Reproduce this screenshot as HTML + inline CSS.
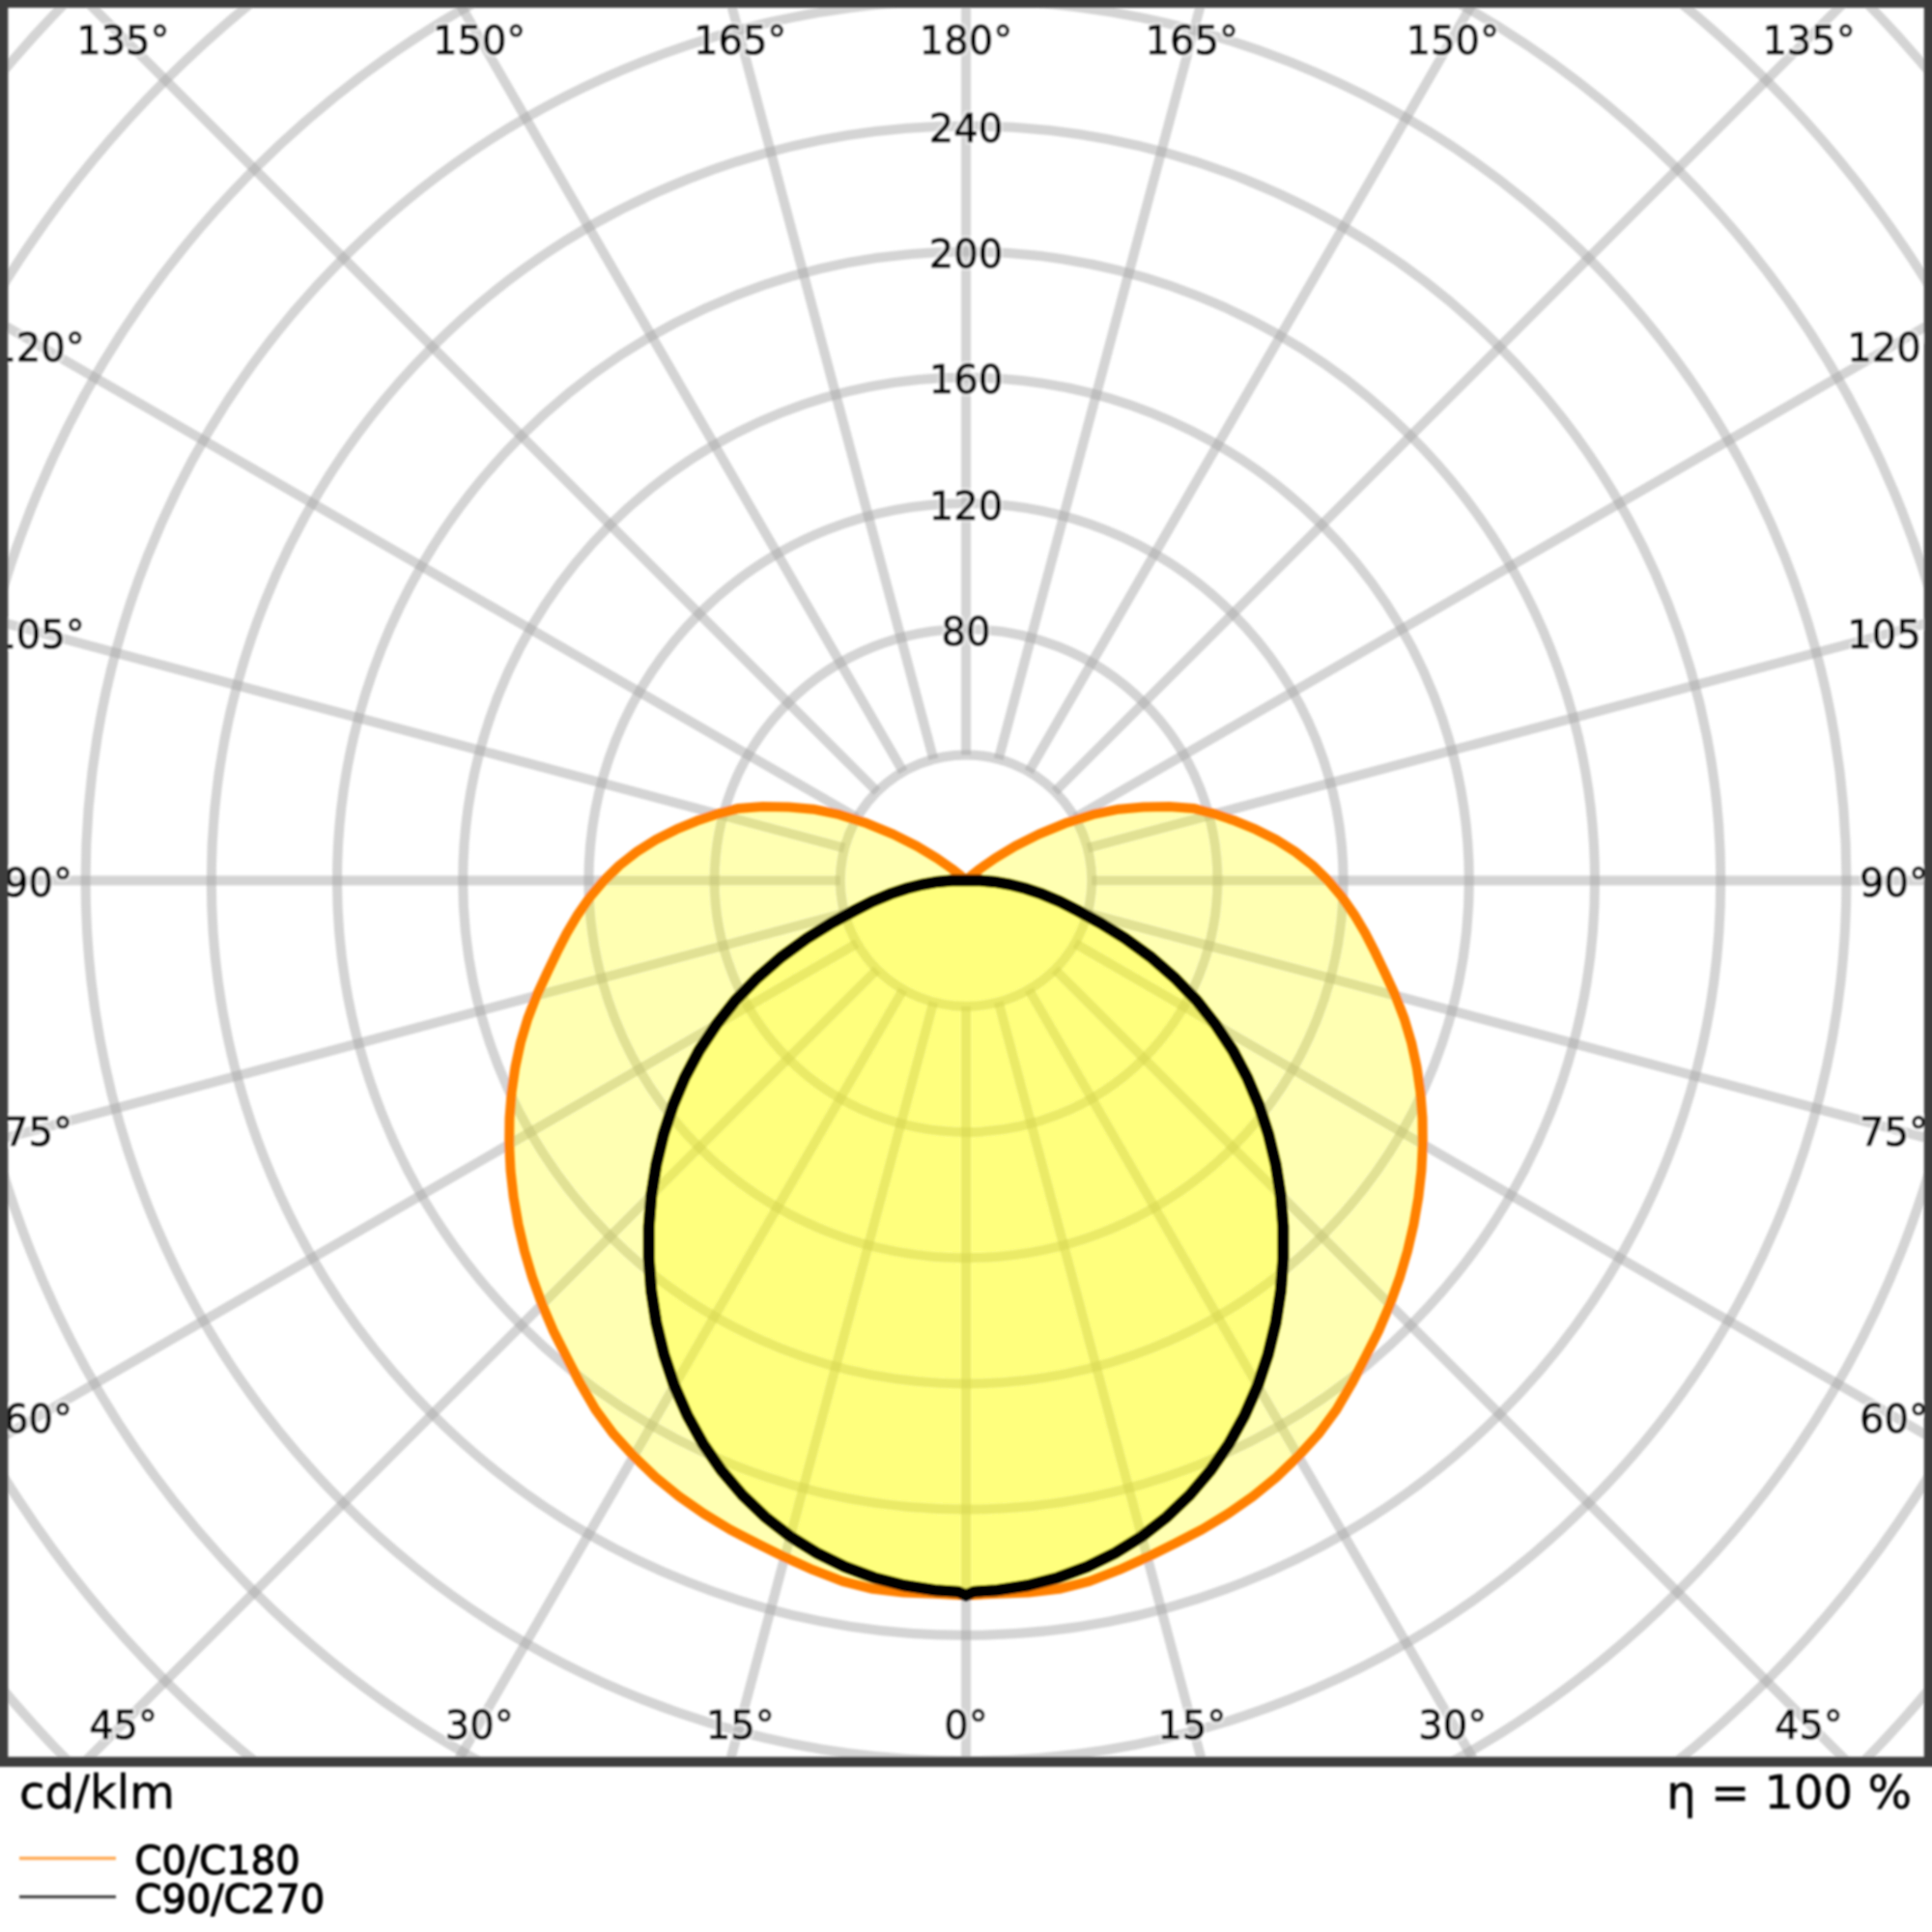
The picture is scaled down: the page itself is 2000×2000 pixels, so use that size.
<!DOCTYPE html>
<html lang="en">
<head>
<meta charset="utf-8">
<title>Polar luminous intensity diagram</title>
<style>
html,body{margin:0;padding:0;background:#fff;}
body{width:2000px;height:2000px;overflow:hidden;}
svg{display:block;}
</style>
</head>
<body>
<svg width="2000" height="2000" viewBox="0 0 2000 2000" font-family="'DejaVu Sans','Liberation Sans',sans-serif" fill="#000">
<defs><clipPath id="ax"><rect x="0" y="0" width="2000" height="1828"/></clipPath><filter id="soft" x="-2%" y="-2%" width="104%" height="104%"><feGaussianBlur stdDeviation="1.15"/></filter><filter id="halo" x="-10%" y="-20%" width="120%" height="140%"><feMorphology in="SourceAlpha" operator="dilate" radius="2" result="d"/><feFlood flood-color="#fff" flood-opacity="0.45"/><feComposite in2="d" operator="in" result="h"/><feMerge><feMergeNode in="h"/><feMergeNode in="SourceGraphic"/></feMerge></filter></defs>
<rect width="2000" height="2000" fill="#fff"/>
<g filter="url(#soft)">
<g clip-path="url(#ax)">
<g fill="none" stroke="rgba(170,170,170,0.5)" stroke-width="10">
<circle cx="1000.0" cy="911.6" r="130.2"/>
<circle cx="1000.0" cy="911.6" r="260.4"/>
<circle cx="1000.0" cy="911.6" r="390.6"/>
<circle cx="1000.0" cy="911.6" r="520.8"/>
<circle cx="1000.0" cy="911.6" r="651.0"/>
<circle cx="1000.0" cy="911.6" r="781.2"/>
<circle cx="1000.0" cy="911.6" r="911.4"/>
<circle cx="1000.0" cy="911.6" r="1041.6"/>
<circle cx="1000.0" cy="911.6" r="1171.8"/>
<circle cx="1000.0" cy="911.6" r="1302.0"/>
<circle cx="1000.0" cy="911.6" r="1432.2"/>
</g>
<g stroke="rgba(170,170,170,0.5)" stroke-width="10">
<line x1="1000.0" y1="1041.8" x2="1000.0" y2="2411.6"/>
<line x1="1033.7" y1="1037.4" x2="1388.2" y2="2360.5"/>
<line x1="1065.1" y1="1024.4" x2="1750.0" y2="2210.6"/>
<line x1="1092.1" y1="1003.7" x2="2060.7" y2="1972.3"/>
<line x1="1112.8" y1="976.7" x2="2299.0" y2="1661.6"/>
<line x1="1125.8" y1="945.3" x2="2448.9" y2="1299.8"/>
<line x1="1130.2" y1="911.6" x2="2500.0" y2="911.6"/>
<line x1="1125.8" y1="877.9" x2="2448.9" y2="523.4"/>
<line x1="1112.8" y1="846.5" x2="2299.0" y2="161.6"/>
<line x1="1092.1" y1="819.5" x2="2060.7" y2="-149.1"/>
<line x1="1065.1" y1="798.8" x2="1750.0" y2="-387.4"/>
<line x1="1033.7" y1="785.8" x2="1388.2" y2="-537.3"/>
<line x1="1000.0" y1="781.4" x2="1000.0" y2="-588.4"/>
<line x1="966.3" y1="785.8" x2="611.8" y2="-537.3"/>
<line x1="934.9" y1="798.8" x2="250.0" y2="-387.4"/>
<line x1="907.9" y1="819.5" x2="-60.7" y2="-149.1"/>
<line x1="887.2" y1="846.5" x2="-299.0" y2="161.6"/>
<line x1="874.2" y1="877.9" x2="-448.9" y2="523.4"/>
<line x1="869.8" y1="911.6" x2="-500.0" y2="911.6"/>
<line x1="874.2" y1="945.3" x2="-448.9" y2="1299.8"/>
<line x1="887.2" y1="976.7" x2="-299.0" y2="1661.6"/>
<line x1="907.9" y1="1003.7" x2="-60.7" y2="1972.3"/>
<line x1="934.9" y1="1024.4" x2="250.0" y2="2210.6"/>
<line x1="966.3" y1="1037.4" x2="611.8" y2="2360.5"/>
</g>
<path d="M1000.0,911.6 L1005.3,906.7 L1014.4,899.5 L1030.1,888.5 L1050.8,876.0 L1075.4,863.6 L1102.7,852.3 L1131.3,843.2 L1158.4,837.7 L1183.7,835.5 L1210.5,835.0 L1236.4,837.1 L1257.4,842.6 L1278.6,849.8 L1300.0,858.7 L1321.0,869.3 L1340.8,881.8 L1358.8,895.9 L1374.8,911.6 L1389.2,928.6 L1401.9,946.8 L1413.3,966.0 L1423.7,986.3 L1434.0,1007.8 L1444.5,1030.7 L1453.7,1054.6 L1461.1,1079.4 L1466.6,1104.9 L1470.4,1131.0 L1472.5,1157.6 L1472.8,1184.6 L1471.4,1211.9 L1468.3,1239.5 L1463.5,1267.2 L1457.0,1295.1 L1448.8,1322.8 L1438.8,1350.4 L1427.1,1377.7 L1413.6,1404.5 L1399.4,1432.1 L1383.5,1459.3 L1364.9,1484.4 L1344.0,1507.4 L1321.4,1529.1 L1297.2,1548.8 L1271.4,1566.9 L1244.4,1583.2 L1216.3,1597.8 L1187.6,1611.9 L1158.2,1625.2 L1127.9,1636.9 L1096.5,1644.8 L1064.5,1648.5 L1032.2,1649.8 L1000.0,1651.4 L967.8,1649.8 L935.5,1648.5 L903.5,1644.8 L872.1,1636.9 L841.8,1625.2 L812.4,1611.9 L783.7,1597.8 L755.6,1583.2 L728.6,1566.9 L702.8,1548.8 L678.6,1529.1 L656.0,1507.4 L635.1,1484.4 L616.5,1459.3 L600.6,1432.1 L586.4,1404.5 L572.9,1377.7 L561.2,1350.4 L551.2,1322.8 L543.0,1295.1 L536.5,1267.2 L531.7,1239.5 L528.6,1211.9 L527.2,1184.6 L527.5,1157.6 L529.6,1131.0 L533.4,1104.9 L538.9,1079.4 L546.3,1054.6 L555.5,1030.7 L566.0,1007.8 L576.3,986.3 L586.7,966.0 L598.1,946.8 L610.8,928.6 L625.2,911.6 L641.2,895.9 L659.2,881.8 L679.0,869.3 L700.0,858.7 L721.4,849.8 L742.6,842.6 L763.6,837.1 L789.5,835.0 L816.3,835.5 L841.6,837.7 L868.7,843.2 L897.3,852.3 L924.6,863.6 L949.2,876.0 L969.9,888.5 L985.6,899.5 L994.7,906.7 L1000.0,911.6 Z" fill="rgba(255,255,0,0.3)"/>
<path d="M1000.0,911.6 L1005.0,911.4 L1014.4,911.6 L1029.8,912.9 L1044.8,915.5 L1061.5,919.7 L1078.3,925.4 L1096.9,933.1 L1114.9,942.4 L1138.9,955.4 L1164.7,971.5 L1191.3,990.8 L1216.1,1012.4 L1239.0,1036.0 L1258.6,1060.9 L1276.3,1087.6 L1291.1,1115.5 L1303.3,1144.4 L1313.1,1174.4 L1320.6,1205.4 L1325.7,1237.3 L1328.3,1269.8 L1328.3,1302.9 L1325.8,1336.2 L1320.6,1369.5 L1312.6,1402.4 L1301.9,1434.5 L1288.3,1465.4 L1272.0,1494.9 L1253.0,1522.4 L1231.5,1547.6 L1207.7,1570.4 L1181.9,1590.5 L1154.3,1607.7 L1125.3,1622.0 L1095.0,1633.2 L1063.8,1641.3 L1032.1,1646.2 L1008.0,1647.8 L1000.0,1651.4 L992.0,1647.8 L967.9,1646.2 L936.2,1641.3 L905.0,1633.2 L874.7,1622.0 L845.7,1607.7 L818.1,1590.5 L792.3,1570.4 L768.5,1547.6 L747.0,1522.4 L728.0,1494.9 L711.7,1465.4 L698.1,1434.5 L687.4,1402.4 L679.4,1369.5 L674.2,1336.2 L671.7,1302.9 L671.7,1269.8 L674.3,1237.3 L679.4,1205.4 L686.9,1174.4 L696.7,1144.4 L708.9,1115.5 L723.7,1087.6 L741.4,1060.9 L761.0,1036.0 L783.9,1012.4 L808.7,990.8 L835.3,971.5 L861.1,955.4 L885.1,942.4 L903.1,933.1 L921.7,925.4 L938.5,919.7 L955.2,915.5 L970.2,912.9 L985.6,911.6 L995.0,911.4 L1000.0,911.6 Z" fill="rgba(255,255,0,0.3)"/>
<path d="M1000.0,911.6 L1005.3,906.7 L1014.4,899.5 L1030.1,888.5 L1050.8,876.0 L1075.4,863.6 L1102.7,852.3 L1131.3,843.2 L1158.4,837.7 L1183.7,835.5 L1210.5,835.0 L1236.4,837.1 L1257.4,842.6 L1278.6,849.8 L1300.0,858.7 L1321.0,869.3 L1340.8,881.8 L1358.8,895.9 L1374.8,911.6 L1389.2,928.6 L1401.9,946.8 L1413.3,966.0 L1423.7,986.3 L1434.0,1007.8 L1444.5,1030.7 L1453.7,1054.6 L1461.1,1079.4 L1466.6,1104.9 L1470.4,1131.0 L1472.5,1157.6 L1472.8,1184.6 L1471.4,1211.9 L1468.3,1239.5 L1463.5,1267.2 L1457.0,1295.1 L1448.8,1322.8 L1438.8,1350.4 L1427.1,1377.7 L1413.6,1404.5 L1399.4,1432.1 L1383.5,1459.3 L1364.9,1484.4 L1344.0,1507.4 L1321.4,1529.1 L1297.2,1548.8 L1271.4,1566.9 L1244.4,1583.2 L1216.3,1597.8 L1187.6,1611.9 L1158.2,1625.2 L1127.9,1636.9 L1096.5,1644.8 L1064.5,1648.5 L1032.2,1649.8 L1000.0,1651.4 L967.8,1649.8 L935.5,1648.5 L903.5,1644.8 L872.1,1636.9 L841.8,1625.2 L812.4,1611.9 L783.7,1597.8 L755.6,1583.2 L728.6,1566.9 L702.8,1548.8 L678.6,1529.1 L656.0,1507.4 L635.1,1484.4 L616.5,1459.3 L600.6,1432.1 L586.4,1404.5 L572.9,1377.7 L561.2,1350.4 L551.2,1322.8 L543.0,1295.1 L536.5,1267.2 L531.7,1239.5 L528.6,1211.9 L527.2,1184.6 L527.5,1157.6 L529.6,1131.0 L533.4,1104.9 L538.9,1079.4 L546.3,1054.6 L555.5,1030.7 L566.0,1007.8 L576.3,986.3 L586.7,966.0 L598.1,946.8 L610.8,928.6 L625.2,911.6 L641.2,895.9 L659.2,881.8 L679.0,869.3 L700.0,858.7 L721.4,849.8 L742.6,842.6 L763.6,837.1 L789.5,835.0 L816.3,835.5 L841.6,837.7 L868.7,843.2 L897.3,852.3 L924.6,863.6 L949.2,876.0 L969.9,888.5 L985.6,899.5 L994.7,906.7 L1000.0,911.6 Z" fill="none" stroke="#ff8000" stroke-width="10" stroke-linejoin="round"/>
<path d="M1000.0,911.6 L1005.0,911.4 L1014.4,911.6 L1029.8,912.9 L1044.8,915.5 L1061.5,919.7 L1078.3,925.4 L1096.9,933.1 L1114.9,942.4 L1138.9,955.4 L1164.7,971.5 L1191.3,990.8 L1216.1,1012.4 L1239.0,1036.0 L1258.6,1060.9 L1276.3,1087.6 L1291.1,1115.5 L1303.3,1144.4 L1313.1,1174.4 L1320.6,1205.4 L1325.7,1237.3 L1328.3,1269.8 L1328.3,1302.9 L1325.8,1336.2 L1320.6,1369.5 L1312.6,1402.4 L1301.9,1434.5 L1288.3,1465.4 L1272.0,1494.9 L1253.0,1522.4 L1231.5,1547.6 L1207.7,1570.4 L1181.9,1590.5 L1154.3,1607.7 L1125.3,1622.0 L1095.0,1633.2 L1063.8,1641.3 L1032.1,1646.2 L1008.0,1647.8 L1000.0,1651.4 L992.0,1647.8 L967.9,1646.2 L936.2,1641.3 L905.0,1633.2 L874.7,1622.0 L845.7,1607.7 L818.1,1590.5 L792.3,1570.4 L768.5,1547.6 L747.0,1522.4 L728.0,1494.9 L711.7,1465.4 L698.1,1434.5 L687.4,1402.4 L679.4,1369.5 L674.2,1336.2 L671.7,1302.9 L671.7,1269.8 L674.3,1237.3 L679.4,1205.4 L686.9,1174.4 L696.7,1144.4 L708.9,1115.5 L723.7,1087.6 L741.4,1060.9 L761.0,1036.0 L783.9,1012.4 L808.7,990.8 L835.3,971.5 L861.1,955.4 L885.1,942.4 L903.1,933.1 L921.7,925.4 L938.5,919.7 L955.2,915.5 L970.2,912.9 L985.6,911.6 L995.0,911.4 L1000.0,911.6 Z" fill="none" stroke="#000" stroke-width="12" stroke-linejoin="miter"/>
</g>
<g font-size="40" text-anchor="middle" stroke="#000" stroke-width="1.2" stroke-linejoin="round">
<text x="1000.0" y="667.8" filter="url(#halo)">80</text>
<text x="1000.0" y="537.6" filter="url(#halo)">120</text>
<text x="1000.0" y="407.4" filter="url(#halo)">160</text>
<text x="1000.0" y="277.2" filter="url(#halo)">200</text>
<text x="1000.0" y="147.0" filter="url(#halo)">240</text>
</g>
<g font-size="40" text-anchor="middle" stroke="#000" stroke-width="1.2" stroke-linejoin="round">
<text x="127.4" y="56.1" filter="url(#halo)">135°</text>
<text x="496.2" y="56.1" filter="url(#halo)">150°</text>
<text x="766.2" y="56.1" filter="url(#halo)">165°</text>
<text x="1000.0" y="56.1" filter="url(#halo)">180°</text>
<text x="1233.8" y="56.1" filter="url(#halo)">165°</text>
<text x="1503.8" y="56.1" filter="url(#halo)">150°</text>
<text x="1872.6" y="56.1" filter="url(#halo)">135°</text>
<text x="127.6" y="1800.0" filter="url(#halo)">45°</text>
<text x="496.3" y="1800.0" filter="url(#halo)">30°</text>
<text x="766.2" y="1800.0" filter="url(#halo)">15°</text>
<text x="1000.0" y="1800.0" filter="url(#halo)">0°</text>
<text x="1233.8" y="1800.0" filter="url(#halo)">15°</text>
<text x="1503.7" y="1800.0" filter="url(#halo)">30°</text>
<text x="1872.4" y="1800.0" filter="url(#halo)">45°</text>
<text x="39.5" y="373.7" filter="url(#halo)">120°</text>
<text x="1960.5" y="373.7" filter="url(#halo)">120°</text>
<text x="39.5" y="670.8" filter="url(#halo)">105°</text>
<text x="1960.5" y="670.8" filter="url(#halo)">105°</text>
<text x="39.5" y="928.2" filter="url(#halo)">90°</text>
<text x="1960.5" y="928.2" filter="url(#halo)">90°</text>
<text x="39.5" y="1185.6" filter="url(#halo)">75°</text>
<text x="1960.5" y="1185.6" filter="url(#halo)">75°</text>
<text x="39.5" y="1482.7" filter="url(#halo)">60°</text>
<text x="1960.5" y="1482.7" filter="url(#halo)">60°</text>
</g>
<g fill="#3c3c3c">
<rect x="-20" y="-20" width="28.3" height="1849"/>
<rect x="1991.8" y="-20" width="28.2" height="1849"/>
<rect x="-20" y="-20" width="2040" height="28"/>
<rect x="-20" y="1818.7" width="2040" height="10.3"/>
</g>
<g stroke="#000" stroke-width="0.5" stroke-linejoin="round">
<text x="20" y="1871.5" font-size="48">cd/klm</text>
<text x="1979" y="1871.5" font-size="48" text-anchor="end">η = 100 %</text>
</g>
<g stroke="#000" stroke-width="1.2" stroke-linejoin="round">
<text x="139.5" y="1939.5" font-size="40">C0/C180</text>
<text x="139.5" y="1979.5" font-size="40">C90/C270</text>
</g>
<rect x="20" y="1922" width="100" height="3.4" fill="#ffaa55"/>
<rect x="20" y="1962" width="100" height="3.2" fill="#4a4a4a"/>
</g>
</svg>
</body>
</html>
